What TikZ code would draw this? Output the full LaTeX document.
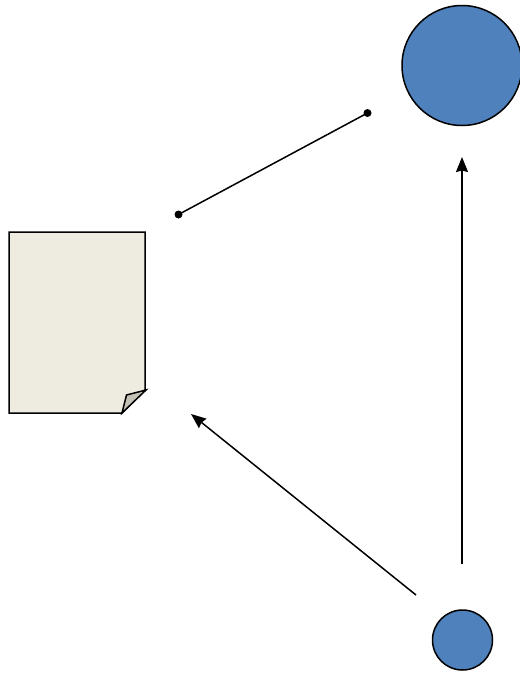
\documentclass[tikz,border=0pt]{standalone}
\usepackage{tikz}
\usetikzlibrary{arrows.meta}
\definecolor{discblue}{RGB}{79,129,189}
\definecolor{pagecream}{RGB}{238,236,225}
\definecolor{foldgrey}{RGB}{196,194,182}
\tikzset{
  disc/.style={shape=circle,draw=black,fill=discblue,line width=1.5pt,inner sep=0pt},
  link/.style={line width=1.5pt},
  tip/.style={-{Stealth[length=15pt,width=12pt,inset=1.5pt]}},
}
\begin{document}
\begin{tikzpicture}[x=1pt,y=-1pt]
      \useasboundingbox (0,0) rectangle (520,673);

      \node[disc,minimum size=120pt](top) at (462,65.5) {};
      \node[disc,minimum size=60pt](bottom) at (462.5,640) {};

      % sheet with the folded corner
      \draw[link,fill=pagecream] (9,232) -- (145,232) -- (145,390) -- (122,413) -- (9,413) -- cycle;
      \draw[link,fill=foldgrey] (122,413) -- (126.5,395) -- (146,390) -- cycle;

      \coordinate (dotA) at (178.5,214.5);
      \coordinate (dotB) at (367.5,113);
      \coordinate (upA) at (462,564);
      \coordinate (upB) at (462,157);
      \coordinate (diagA) at (416,595);
      \coordinate (diagB) at (191,414);

      \draw[link] (dotA) -- (dotB);
      \fill (dotA) circle (4pt);
      \fill (dotB) circle (4pt);
      \draw[link,tip] (upA) -- (upB);
      \draw[link,tip] (diagA) -- (diagB);
    \end{tikzpicture}
\end{document}
